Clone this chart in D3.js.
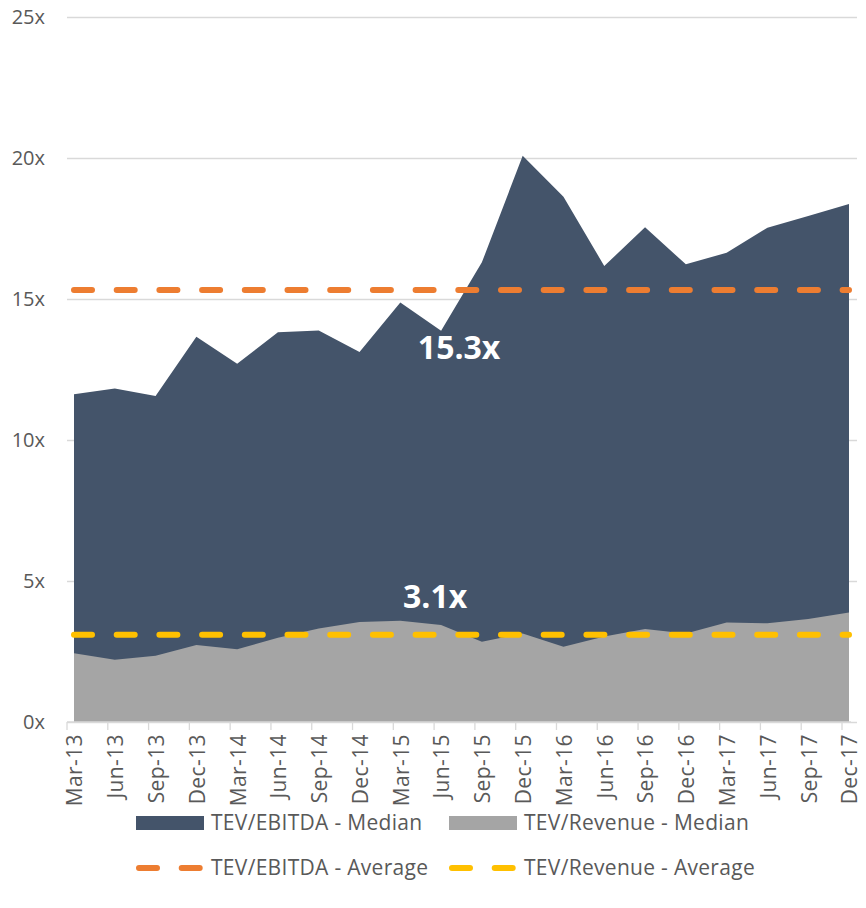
<!DOCTYPE html>
<html>
<head>
<meta charset="utf-8">
<script src="https://cdn.jsdelivr.net/npm/d3@7"></script>
<style>
  body { margin: 0; background: #fff; }
  svg text { font-family: "Open Sans", sans-serif; }
</style>
</head>
<body>
<div id="chart"></div>
<script>
var quarters = ['Mar-13', 'Jun-13', 'Sep-13', 'Dec-13', 'Mar-14', 'Jun-14', 'Sep-14', 'Dec-14',
  'Mar-15', 'Jun-15', 'Sep-15', 'Dec-15', 'Mar-16', 'Jun-16', 'Sep-16', 'Dec-16',
  'Mar-17', 'Jun-17', 'Sep-17', 'Dec-17'];
var ebitdaMedian = [11.62, 11.83, 11.56, 13.66, 12.70, 13.82, 13.88, 13.12, 14.88, 13.87,
  16.30, 20.08, 18.63, 16.17, 17.54, 16.23, 16.64, 17.53, 17.94, 18.37];
var revenueMedian = [2.44, 2.21, 2.35, 2.73, 2.58, 2.99, 3.32, 3.55, 3.59, 3.44,
  2.85, 3.14, 2.67, 3.03, 3.30, 3.14, 3.53, 3.50, 3.65, 3.88];
var yTicks = [0, 5, 10, 15, 20, 25];
var legendNames = ['TEV/EBITDA - Median', 'TEV/Revenue - Median', 'TEV/EBITDA - Average', 'TEV/Revenue - Average'];

var width = 866;
var height = 908;
var gridLeft = 67, gridRight = 857;

var darkBlue = '#44546a';
var grey = '#a5a5a5';
var orange = '#ed7d31';
var yellow = '#ffc000';
var textGrey = '#595959';

var ebitdaAvg = d3.mean(ebitdaMedian);
var revenueAvg = d3.mean(revenueMedian);

var svg = d3.select('#chart')
  .append('svg')
  .attr('width', width)
  .attr('height', height);

var x = d3.scalePoint()
  .domain(quarters)
  .range([74, 849]);

var y = d3.scaleLinear()
  .domain([0, 25])
  .range([722, 17]);

// gridlines + y labels
var yAxis = svg.append('g')
  .attr('transform', 'translate(' + gridLeft + ',0)')
  .call(d3.axisLeft(y)
    .tickValues(yTicks)
    .tickSize(-(gridRight - gridLeft))
    .tickPadding(22)
    .tickFormat(function(d) { return d + 'x'; }));
yAxis.select('.domain').remove();
yAxis.selectAll('line').attr('stroke', '#d9d9d9').attr('stroke-width', 1.3);
yAxis.selectAll('text')
  .attr('fill', textGrey)
  .style('font-size', '20px')
  .style('font-family', '"Open Sans", sans-serif');

// areas
var area = function(values) {
  return d3.area()
    .x(function(d, i) { return x(quarters[i]); })
    .y0(y(0))
    .y1(function(d) { return y(d); })(values);
};

svg.append('path')
  .attr('d', area(ebitdaMedian))
  .attr('fill', darkBlue);

svg.append('path')
  .attr('d', area(revenueMedian))
  .attr('fill', grey);

// x axis
svg.append('line')
  .attr('x1', gridLeft).attr('x2', 851)
  .attr('y1', y(0)).attr('y2', y(0))
  .attr('stroke', '#d9d9d9').attr('stroke-width', 1.3);

svg.selectAll('.xtick')
  .data(quarters)
  .enter()
  .append('line')
  .attr('class', 'xtick')
  .attr('x1', function(d) { return x(d) - 7; })
  .attr('x2', function(d) { return x(d) - 7; })
  .attr('y1', y(0))
  .attr('y2', y(0) + 8)
  .attr('stroke', '#d9d9d9').attr('stroke-width', 1.3);

svg.selectAll('.xlabel')
  .data(quarters)
  .enter()
  .append('text')
  .attr('class', 'xlabel')
  .attr('transform', function(d) { return 'translate(' + (x(d) + 1) + ',' + 734 + ') rotate(-90)'; })
  .attr('text-anchor', 'end')
  .attr('dy', '0.35em')
  .attr('fill', textGrey)
  .style('font-size', '21px')
  .style('letter-spacing', '0.4px')
  .text(function(d) { return d; });

// average lines
var avgLine = function(val, color) {
  svg.append('line')
    .attr('x1', x(quarters[0]))
    .attr('x2', x(quarters[quarters.length - 1]))
    .attr('y1', y(val))
    .attr('y2', y(val))
    .attr('stroke', color)
    .attr('stroke-width', 6)
    .attr('stroke-linecap', 'round')
    .attr('stroke-dasharray', '18,24.7');
};
avgLine(ebitdaAvg, orange);
avgLine(revenueAvg, yellow);

svg.append('text')
  .attr('x', x(quarters[9]) + 18)
  .attr('y', y(ebitdaAvg) + 69)
  .attr('text-anchor', 'middle')
  .attr('fill', '#fff')
  .style('font-size', '32px')
  .style('font-weight', 'bold')
  .text(ebitdaAvg.toFixed(1) + 'x');

svg.append('text')
  .attr('x', x(quarters[9]) - 6)
  .attr('y', y(revenueAvg) - 27)
  .attr('text-anchor', 'middle')
  .attr('fill', '#fff')
  .style('font-size', '32px')
  .style('font-weight', 'bold')
  .text(revenueAvg.toFixed(1) + 'x');

// legend
var legendItems = [
  { name: legendNames[0], color: darkBlue, type: 'rect', lx: 136, ly: 823 },
  { name: legendNames[1], color: grey, type: 'rect', lx: 449, ly: 823 },
  { name: legendNames[2], color: orange, type: 'dash', lx: 136, ly: 868 },
  { name: legendNames[3], color: yellow, type: 'dash', lx: 449, ly: 868 }
];

var legend = svg.selectAll('.legend')
  .data(legendItems)
  .enter()
  .append('g')
  .attr('class', 'legend')
  .attr('transform', function(d) { return 'translate(' + d.lx + ',' + d.ly + ')'; });

legend.filter(function(d) { return d.type === 'rect'; })
  .append('rect')
  .attr('x', 0)
  .attr('y', -7)
  .attr('width', 68)
  .attr('height', 14)
  .attr('fill', function(d) { return d.color; });

legend.filter(function(d) { return d.type === 'dash'; })
  .append('line')
  .attr('x1', 3)
  .attr('x2', 65)
  .attr('stroke', function(d) { return d.color; })
  .attr('stroke-width', 6)
  .attr('stroke-linecap', 'round')
  .attr('stroke-dasharray', '18,24.7');

legend.append('text')
  .attr('x', 75)
  .attr('dy', '0.35em')
  .attr('fill', textGrey)
  .style('font-size', '21px')
  .style('letter-spacing', '0.3px')
  .text(function(d) { return d.name; });
</script>
</body>
</html>
